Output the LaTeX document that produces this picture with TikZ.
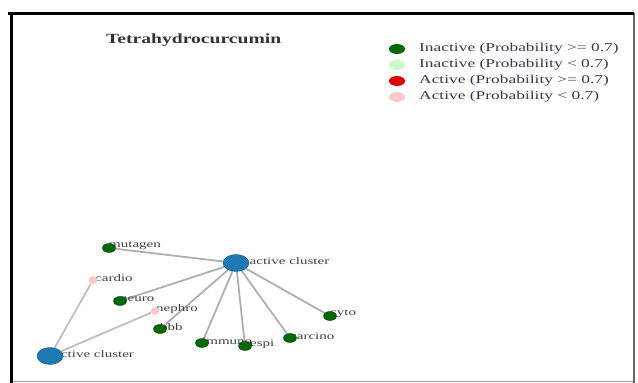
\documentclass[tikz,border=0pt]{standalone}
\usepackage{graphicx}
\usepackage{fontspec}
\setmainfont{Liberation Serif}
\usetikzlibrary{shapes.geometric,backgrounds}
\definecolor{clusterblue}{RGB}{31,119,180}
\definecolor{darkgreen}{RGB}{0,105,0}
\definecolor{lightgreen}{RGB}{205,250,205}
\definecolor{activered}{RGB}{225,0,0}
\definecolor{lightpink}{RGB}{255,200,205}
\definecolor{edgegray}{RGB}{175,175,175}
\definecolor{legendgray}{RGB}{55,55,80}
\newcommand\wide[2][1.5]{\scalebox{#1}[1]{#2}}
\begin{document}
\begin{tikzpicture}[x=1pt,y=-1pt,
    cluster/.style={ellipse,fill=clusterblue,draw=clusterblue!75!black,minimum width=26pt,minimum height=17pt,inner sep=0pt},
    inact/.style={ellipse,fill=darkgreen,draw=darkgreen!60!black,minimum width=13pt,minimum height=9pt,inner sep=0pt},
    actlow/.style={ellipse,fill=lightpink,minimum width=9pt,minimum height=8pt,inner sep=0pt},
    legmark/.style={ellipse,minimum width=16pt,minimum height=10pt,inner sep=0pt},
    tag/.style={anchor=west,inner sep=0pt,text=black!75,font=\fontsize{10}{11}\selectfont},
    legtext/.style={anchor=west,inner sep=0pt,text=legendgray,font=\fontsize{12}{13}\selectfont},
    link/.style={draw=edgegray,line width=1.8pt}]
  \useasboundingbox (0,0) rectangle (638,383);
  % frame
  \draw[black!35,line width=1pt] (11,381) -- (634,381);
  \draw[black!60,line width=1.5pt] (634,13) -- (634,383);
  \draw[black,line width=3pt] (8,13) -- (634,13);
  \draw[black,line width=3pt] (11,13) -- (11,383);
  \node[anchor=west,inner sep=0pt,text=black!80,font=\bfseries\fontsize{14}{16}\selectfont] (title) at (106,40) {\wide[1.4]{Tetrahydrocurcumin}};
  % legend
  \node[legmark,fill=darkgreen]  (m1) at (397,49) {};
  \node[legmark,fill=lightgreen] (m2) at (397,65) {};
  \node[legmark,fill=activered]  (m3) at (397,81) {};
  \node[legmark,fill=lightpink]  (m4) at (397,97) {};
  \node[legtext] (l1) at (419,49) {\wide[1.45]{Inactive (Probability >= 0.7)}};
  \node[legtext] (l2) at (419,65) {\wide[1.45]{Inactive (Probability < 0.7)}};
  \node[legtext] (l3) at (419,81) {\wide[1.45]{Active (Probability >= 0.7)}};
  \node[legtext] (l4) at (419,97) {\wide[1.45]{Active (Probability < 0.7)}};
  % network
  \node[cluster] (inactive) at (236,263) {};
  \node[cluster] (active)   at (50,356)  {};
  \node[inact]  (mutagen) at (109,248) {};
  \node[actlow] (cardio)  at (93,280)  {};
  \node[inact]  (neuro)   at (120,301) {};
  \node[actlow] (nephro)  at (155,311) {};
  \node[inact]  (bbb)     at (160,329) {};
  \node[inact]  (immuno)  at (202,343) {};
  \node[inact]  (respi)   at (245,346) {};
  \node[inact]  (carcino) at (290,338) {};
  \node[inact]  (cyto)    at (330,316) {};
  \begin{scope}[on background layer]
    \path (inactive) edge[link] (mutagen)
                     edge[link] (neuro)
                     edge[link] (bbb)
                     edge[link] (immuno)
                     edge[link] (respi)
                     edge[link] (carcino)
                     edge[link] (cyto)
          (active)   edge[link,draw=edgegray!80] (cardio)
                     edge[link,draw=edgegray!80] (nephro);
    \node[tag] at (237,261) {\wide{Inactive cluster}};
    \node[tag] at (50,354)  {\wide{Active cluster}};
    \node[tag] at (109,246) {\wide{mutagen}};
    \node[tag] at (95,278)  {\wide{cardio}};
    \node[tag] at (120,299) {\wide{neuro}};
    \node[tag] at (156,309) {\wide{nephro}};
    \node[tag] at (160,327) {\wide{bbb}};
    \node[tag] at (202,341) {\wide{immuno}};
    \node[tag] at (245,344) {\wide{respi}};
    \node[tag] at (290,336) {\wide{carcino}};
    \node[tag] at (330,314) {\wide{cyto}};
  \end{scope}
\end{tikzpicture}
\end{document}
